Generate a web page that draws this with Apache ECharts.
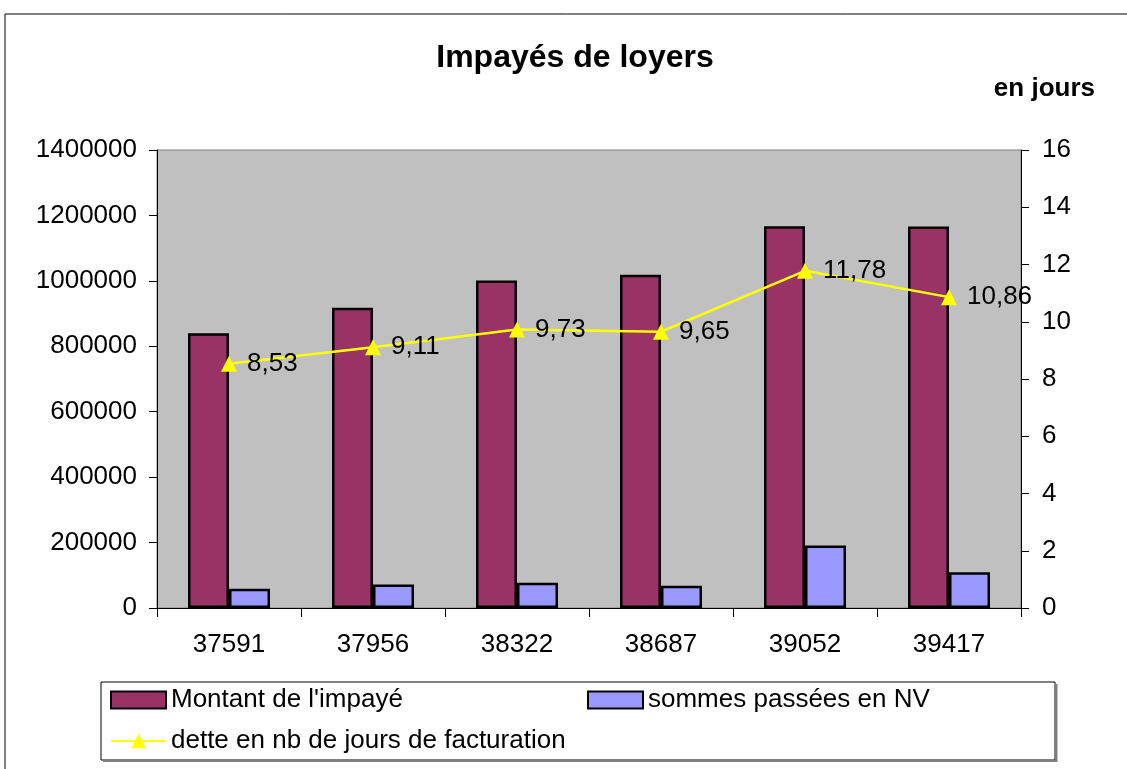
<!DOCTYPE html>
<html>
<head>
<meta charset="utf-8">
<title>Impayés de loyers</title>
<script src="https://cdn.jsdelivr.net/npm/echarts@6/dist/echarts.min.js"></script>
<style>
  html, body { margin: 0; padding: 0; background: #fff; }
  #chart { width: 1127px; height: 769px; }
</style>
</head>
<body>
<div id="chart"></div>
<script>
// données
const categories = ['37591', '37956', '38322', '38687', '39052', '39417'];
const montantImpaye = [840000, 918000, 1001000, 1019000, 1167000, 1166000];
const sommesNV = [59000, 72000, 77000, 68000, 191000, 109000];
const detteJours = [8.53, 9.11, 9.73, 9.65, 11.78, 10.86];

const seriesNames = ["Montant de l'impayé", 'sommes passées en NV', 'dette en nb de jours de facturation'];

const font = "'Liberation Sans', Arial, sans-serif";

let chart = echarts.init(document.getElementById('chart'));

let legendText = { color: '#000', fontSize: 26, fontFamily: font };

let option = {
  animation: false,
  textStyle: { fontFamily: font },
  graphic: [
    // cadre du graphique
    { type: 'rect', shape: { x: 5, y: 14, width: 1200, height: 800 },
      style: { fill: 'none', stroke: '#000', lineWidth: 1 }, z: -1 },
    // cadre de la légende
    { type: 'rect', shape: { x: 101, y: 682, width: 954, height: 78 },
      style: { fill: '#fff', stroke: '#000', lineWidth: 1 }, z: -1 },
    { type: 'polyline', shape: { points: [[103, 761], [1056.5, 761], [1056.5, 684]] },
      style: { fill: 'none', stroke: '#808080', lineWidth: 2 }, z: -1 },
    { type: 'text', x: 575, y: 58,
      style: { text: 'Impayés de loyers', fontSize: 32, fontWeight: 'bold', fontFamily: font,
               fill: '#000', textAlign: 'center', textVerticalAlign: 'middle' } },
    { type: 'text', x: 1095, y: 89,
      style: { text: 'en jours', fontSize: 26, fontWeight: 'bold', fontFamily: font,
               fill: '#000', textAlign: 'right', textVerticalAlign: 'middle' } }
  ],
  legend: [
    { data: [{ name: seriesNames[0], icon: 'rect' }], left: 110, top: 687, padding: 0,
      itemWidth: 55, itemHeight: 17, selectedMode: false, textStyle: legendText },
    { data: [{ name: seriesNames[1], icon: 'rect' }], left: 587, top: 687, padding: 0,
      itemWidth: 55, itemHeight: 17, selectedMode: false, textStyle: legendText },
    { data: [seriesNames[2]], left: 110, top: 728, padding: 0,
      itemWidth: 55, itemHeight: 18, selectedMode: false, textStyle: legendText }
  ],
  grid: {
    left: 157, right: 106, top: 150, bottom: 161,
    show: true, backgroundColor: '#c0c0c0', borderColor: '#808080', borderWidth: 1
  },
  xAxis: {
    type: 'category',
    data: categories,
    axisLine: { lineStyle: { color: '#000', width: 1 } },
    axisTick: { show: true, length: 9, lineStyle: { color: '#000' } },
    axisLabel: { color: '#000', fontSize: 26, margin: 24 }
  },
  yAxis: [
    {
      type: 'value', min: 0, max: 1400000, interval: 200000,
      axisLine: { show: true, lineStyle: { color: '#000' } },
      axisTick: { show: true, length: 8, lineStyle: { color: '#000' } },
      axisLabel: {
        color: '#000', fontSize: 26, margin: 20,
        formatter: function (v) { return String(v); }
      },
      splitLine: { show: false }
    },
    {
      type: 'value', min: 0, max: 16, interval: 2,
      axisLine: { show: true, lineStyle: { color: '#000' } },
      axisTick: { show: true, length: 8, lineStyle: { color: '#000' } },
      axisLabel: { color: '#000', fontSize: 26, margin: 21 },
      splitLine: { show: false }
    }
  ],
  series: [
    {
      name: seriesNames[0],
      type: 'bar',
      data: montantImpaye,
      barWidth: 41,
      barGap: '0%',
      itemStyle: { color: '#993366', borderColor: '#000', borderWidth: 2.5 }
    },
    {
      name: seriesNames[1],
      type: 'bar',
      data: sommesNV,
      barWidth: 41,
      barGap: '0%',
      itemStyle: { color: '#9999ff', borderColor: '#000', borderWidth: 2.5 }
    },
    {
      name: seriesNames[2],
      type: 'line',
      yAxisIndex: 1,
      data: detteJours,
      symbol: 'triangle',
      symbolSize: 16,
      z: 5,
      lineStyle: { color: '#ffff00', width: 2.5 },
      itemStyle: { color: '#ffff00' },
      label: {
        show: true,
        position: 'right',
        distance: 10,
        color: '#000',
        fontSize: 26,
        formatter: function (p) {
          return String(p.value).replace('.', ',');
        }
      }
    }
  ]
};

chart.setOption(option);
</script>
</body>
</html>
